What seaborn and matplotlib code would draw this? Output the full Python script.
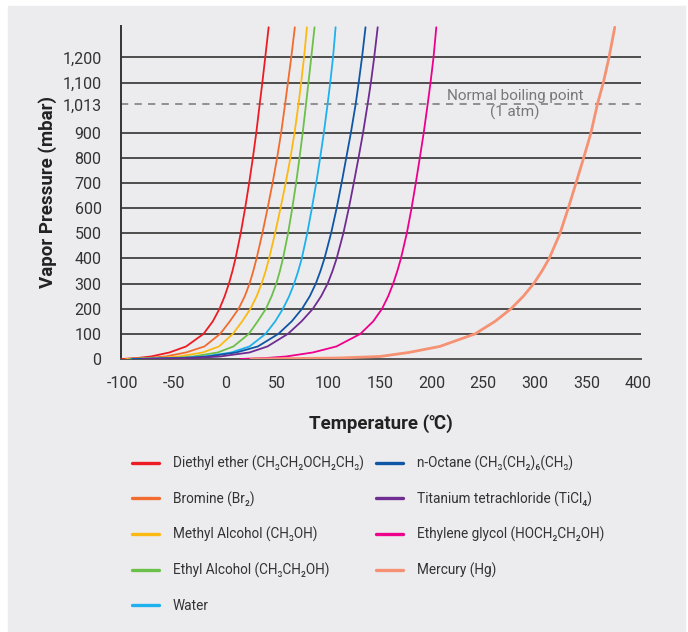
import numpy as np
import pandas as pd
import seaborn as sns
import matplotlib.pyplot as plt
from matplotlib.patches import Rectangle

pressure = [0, 4, 10, 26, 50, 100, 150, 200, 250, 300, 350, 400, 500, 600, 700, 800, 900, 1013, 1100, 1200, 1320]

# temperature (C) of each liquid at those pressures
t_ether = [-100, -85, -72, -54, -37.9, -21, -12, -5.5, -0.5, 3.6, 7, 10, 15, 19.3, 23.2, 26.8, 30.1, 33.4, 36, 38.8, 42.1]
t_bromine = [-97, -75, -58, -37.9, -20.1, -4.9, 4.5, 13, 19, 23.6, 27.2, 30.4, 36, 41.1, 45.9, 50.3, 54.2, 58, 60.8, 64, 67.5]
t_methanol = [-95, -65, -45, -21.7, -6, 7.4, 16.5, 24.5, 30.5, 35.3, 39.2, 42.5, 48.3, 53.6, 58.6, 63.2, 67.2, 71, 73.6, 76.4, 79.2]
t_ethanol = [-93, -52, -31, -7.2, 8, 22.9, 31.5, 39.5, 45, 49.5, 53, 56, 60.9, 65, 68.7, 72, 75.1, 78.3, 80.7, 83.4, 86.6]
t_water = [-91, -42, -20, 5.8, 23.6, 39.1, 48.5, 56, 62, 66.8, 70.8, 74.2, 79.5, 84, 88.2, 92, 95.6, 99.2, 101.8, 104.5, 107]
t_octane = [-90, -40, -17, 10.7, 31.7, 51.5, 64.5, 74.5, 82, 87.8, 92.3, 96.2, 102.6, 108, 112.8, 117.3, 121.8, 126.4, 129.4, 132.6, 136]
t_ticl4 = [-80, -30, -5, 23.6, 41, 60.8, 74, 85, 93, 99.3, 104, 108, 114.5, 119.8, 124.6, 129.2, 133.6, 138, 141.2, 144.4, 147.8]
t_glycol = [14, 40, 59, 85, 107.8, 131, 143.5, 152, 158, 162.8, 166.8, 170.3, 176, 180.6, 184.7, 188.6, 192.4, 196.2, 199, 201.9, 204.6]
t_mercury = [25, 110, 150, 178, 208, 242.2, 261.6, 277, 289, 299, 307, 314, 324.5, 332.5, 340, 347.4, 354.5, 360.7, 366.5, 372, 377.6]

labels = ['Diethyl ether (CH₃CH₂OCH₂CH₃)', 'Bromine (Br₂)', 'Methyl Alcohol (CH₃OH)',
          'Ethyl Alcohol (CH₃CH₂OH)', 'Water', 'n-Octane (CH₃(CH₂)₆(CH₃)',
          'Titanium tetrachloride (TiCl₄)', 'Ethylene glycol (HOCH₂CH₂OH)', 'Mercury (Hg)']
temps = [t_ether, t_bromine, t_methanol, t_ethanol, t_water, t_octane, t_ticl4, t_glycol, t_mercury]
colors = ['#ED1C24', '#F26B2F', '#FDB913', '#6CC04A', '#1EB1ED', '#0F56A5', '#6F2C91', '#EC008C', '#F69273']

yticks = [0, 100, 200, 300, 400, 500, 600, 700, 800, 900, 1013, 1100, 1200]
xticks = [-100, -50, 0, 50, 100, 150, 200, 250, 300, 350, 400]

rows = []
for name, t in zip(labels, temps):
    for a, b in zip(t, pressure):
        rows.append((name, a, b))
df = pd.DataFrame(rows, columns=['name', 'temp', 'pressure'])

sns.set_theme(style='white')
plt.rcParams['font.family'] = ['Roboto', 'DejaVu Sans']
text_color = '#333333'

fig = plt.figure(figsize=(6.88, 6.32), dpi=100, facecolor='white')
fig.patches.append(Rectangle((8 / 688, 0), 677 / 688, 626 / 632, transform=fig.transFigure,
                             color='#ECECEE', zorder=-10))
ax = fig.add_axes([121 / 688, 273 / 632, 520 / 688, 333 / 632])
ax.set_facecolor('none')

for v in yticks[1:]:
    if v == 1013:
        ax.axhline(v, color='#888888', lw=1.3, ls=(0, (4, 3.5)), zorder=1)
    else:
        ax.axhline(v, color='#222222', lw=1.1, zorder=1)

for name, c in zip(labels, colors):
    sns.lineplot(data=df[df.name == name], x='temp', y='pressure', color=c,
                 lw=2.0 if name.startswith('Mercury') else 1.3, estimator=None,
                 sort=False, ax=ax, label=name, legend=False, zorder=3)

ax.set_xlim(-101, 403)
ax.set_ylim(0, 1325)
ax.set_xticks(xticks)
ax.set_xticklabels([str(v) for v in xticks])
ax.set_yticks(yticks)
ax.set_yticklabels([f'{v:,}' for v in yticks])
ax.tick_params(axis='x', length=0, pad=12, labelsize=11.5, labelcolor=text_color)
ax.tick_params(axis='y', length=0, pad=14, labelsize=11.5, labelcolor=text_color)
for s in ['top', 'right']:
    ax.spines[s].set_visible(False)
ax.spines['left'].set_color('#333333')
ax.spines['left'].set_linewidth(1.4)
ax.spines['bottom'].set_color('#555555')
ax.spines['bottom'].set_linewidth(1.4)

ax.set_xlabel('Temperature (℃)', fontsize=13.5, fontweight='bold', color='#222222', labelpad=17)
ax.set_ylabel('Vapor Pressure (mbar)', fontsize=13.5, fontweight='bold', color='#222222', labelpad=4)

ax.text(281, 1013, 'Normal boiling point\n(1 atm)', ha='center', va='center', fontsize=11,
        color='#777777', linespacing=1.15, zorder=4)

lines = ax.get_lines()[len(yticks) - 1:]
kw = dict(frameon=False, fontsize=9.8, handlelength=2.0, handletextpad=1.0,
          labelspacing=1.5, labelcolor=text_color, borderpad=0, borderaxespad=0)
leg1 = fig.legend(lines[:5], labels[:5], loc='upper left', bbox_to_anchor=(132 / 688, 1 - 455.5 / 632), **kw)
leg2 = fig.legend(lines[5:], labels[5:], loc='upper left', bbox_to_anchor=(376 / 688, 1 - 455.5 / 632), **kw)
for leg in (leg1, leg2):
    for h in leg.legend_handles:
        h.set_linewidth(2.4)

fig.savefig('out.png', dpi=100, facecolor='white')
